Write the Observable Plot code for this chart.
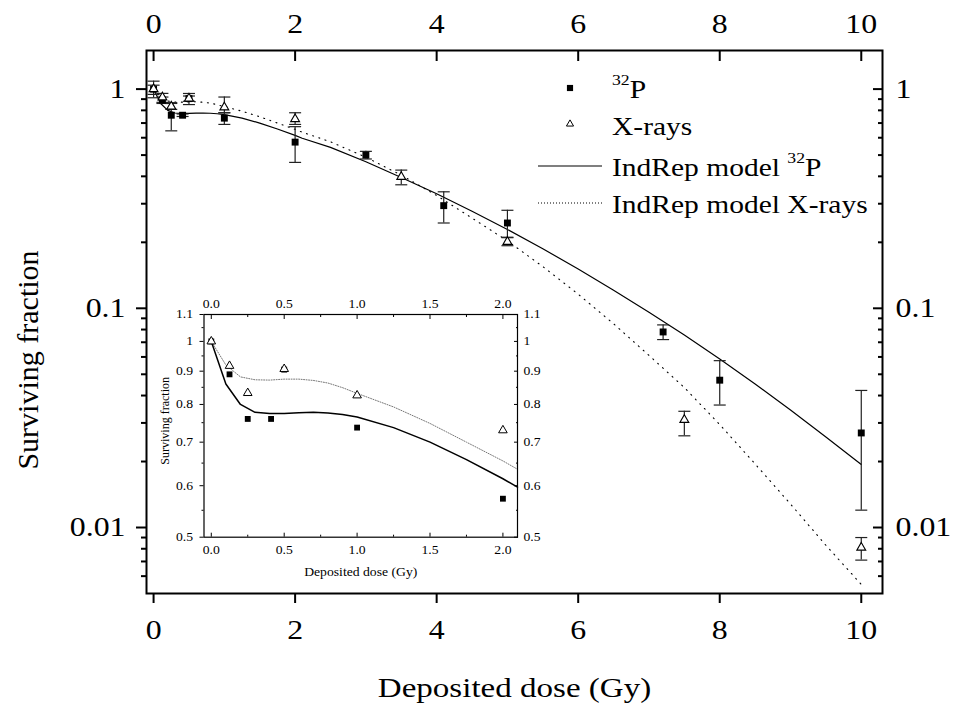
<!DOCTYPE html>
<html>
<head>
<meta charset="utf-8">
<script src="https://cdn.jsdelivr.net/npm/d3@7"></script>
<script src="https://cdn.jsdelivr.net/npm/@observablehq/plot@0.6"></script>
<style>
  html, body { margin: 0; padding: 0; background: #fff; }
  svg { display: block; }
</style>
</head>
<body>
<div id="chart"></div>
<script>
// ---------- data ----------
// 32P measurements
const p32Dose = [0, 0.125, 0.25, 0.41, 0.5, 1.0, 2.0, 3.0, 4.1, 5.0, 7.2, 8.0, 10.0];
const p32Sf   = [1.0, 0.89, 0.76, 0.76, 0.905, 0.737, 0.573, 0.50, 0.294, 0.245, 0.078, 0.047, 0.027];
const p32Lo   = [0.946, 0.86, 0.645, 0.75, 0.88, 0.69, 0.463, 0.48, 0.245, 0.21, 0.072, 0.0362, 0.012];
const p32Hi   = [1.042, 0.92, 0.86, 0.77, 0.93, 0.78, 0.674, 0.52, 0.34, 0.28, 0.084, 0.0577, 0.0422];
// X-ray measurements
const xrDose = [0, 0.125, 0.25, 0.5, 1.0, 2.0, 3.5, 5.0, 7.5, 10.0];
const xrSf   = [1.0, 0.917, 0.833, 0.907, 0.826, 0.73, 0.398, 0.201, 0.031, 0.0081];
const xrLo   = [0.913, 0.87, 0.808, 0.85, 0.78, 0.69, 0.366, 0.193, 0.0262, 0.0071];
const xrHi   = [1.087, 0.956, 0.867, 0.955, 0.92, 0.78, 0.427, 0.211, 0.0339, 0.009];
// IndRep model curves
const modelDose = [0, 0.1, 0.2, 0.3, 0.4, 0.5, 0.6, 0.7, 0.8, 0.9, 1.0, 1.25, 1.5, 1.75, 2.0, 2.1,
                   2.5, 3.0, 3.5, 4.0, 4.5, 5.0, 5.5, 6.0, 6.5, 7.0, 7.5, 8.0, 8.5, 9.0, 9.5, 10.0];
const p32Model = [1.0, 0.86, 0.80, 0.778, 0.775, 0.775, 0.777, 0.778, 0.776, 0.772, 0.765, 0.737, 0.70, 0.658, 0.615, 0.597,
                  0.542, 0.466, 0.395, 0.333, 0.277, 0.229, 0.187, 0.151, 0.121, 0.096, 0.0755, 0.0587, 0.0452, 0.0344, 0.0259, 0.0194];
const xrModel  = [1.0, 0.92, 0.882, 0.873, 0.872, 0.875, 0.875, 0.871, 0.863, 0.849, 0.832, 0.793, 0.748, 0.70, 0.655, 0.636,
                  0.575, 0.489, 0.405, 0.327, 0.258, 0.203, 0.155, 0.116, 0.085, 0.061, 0.0435, 0.0295, 0.0195, 0.0128, 0.0083, 0.0055];
// ticks
const xTicks = [0, 2, 4, 6, 8, 10];
const yMajor = [0.01, 0.1, 1];
const yMinor = [0.006, 0.007, 0.008, 0.009, 0.02, 0.03, 0.04, 0.05, 0.06, 0.07, 0.08, 0.09,
                0.2, 0.3, 0.4, 0.5, 0.6, 0.7, 0.8, 0.9];
const insetXMajor = [0, 0.5, 1.0, 1.5, 2.0];
const insetXMinor = [0.25, 0.75, 1.25, 1.75];
const insetYMajor = [0.5, 0.6, 0.7, 0.8, 0.9, 1.0, 1.1];
const insetYMinor = [0.55, 0.65, 0.75, 0.85, 0.95, 1.05];
// texts
const xTitle = "Deposited dose (Gy)";
const yTitle = "Surviving fraction";

// ---------- tables ----------
const p32 = p32Dose.map((d, i) => ({dose: d, sf: p32Sf[i], lo: p32Lo[i], hi: p32Hi[i]}));
const xr  = xrDose.map((d, i) => ({dose: d, sf: xrSf[i], lo: xrLo[i], hi: xrHi[i]}));
const model = modelDose.map((d, i) => ({dose: d, p32: p32Model[i], xr: xrModel[i]}));

const FONT = "'Liberation Serif', 'Times New Roman', serif";
const capSymbol = {draw(ctx) { ctx.moveTo(-6, 0); ctx.lineTo(6, 0); }};

// ---------- main chart ----------
const main = Plot.plot({
  width: 959, height: 710,
  marginLeft: 146, marginRight: 77, marginTop: 50, marginBottom: 117,
  style: {fontFamily: FONT, fontSize: "27px", background: "white", color: "black"},
  x: {domain: [-0.1, 10.3]},
  y: {type: "log", domain: [0.005, 1.5]},
  marks: [
    // axes: ticks
    Plot.axisX({anchor: "bottom", ticks: xTicks, tickSize: 10, strokeWidth: 2, fill: "none", label: null}),
    Plot.axisX({anchor: "top", ticks: xTicks, tickSize: 10, dy: 10, strokeWidth: 2, fill: "none", label: null}),
    Plot.axisY({anchor: "left", ticks: yMajor, tickSize: 10, strokeWidth: 2, fill: "none", label: null}),
    Plot.axisY({anchor: "left", ticks: yMinor, tickSize: 5, strokeWidth: 2, fill: "none", label: null}),
    Plot.axisY({anchor: "right", ticks: yMajor, tickSize: 10, dx: -10, strokeWidth: 2, fill: "none", label: null}),
    Plot.axisY({anchor: "right", ticks: yMinor, tickSize: 5, dx: -5, strokeWidth: 2, fill: "none", label: null}),
    // axes: labels
    Plot.axisX({anchor: "bottom", ticks: xTicks, tickSize: 0, tickPadding: 26, label: null, fontSize: 27}),
    Plot.axisX({anchor: "top", ticks: xTicks, tickSize: 0, tickPadding: 18, label: null, fontSize: 27}),
    Plot.axisY({anchor: "left", ticks: yMajor, tickSize: 0, tickPadding: 21, label: null, fontSize: 27, tickFormat: d => String(d)}),
    Plot.axisY({anchor: "right", ticks: yMajor, tickSize: 0, tickPadding: 13, label: null, fontSize: 27, tickFormat: d => String(d)}),
    // titles
    Plot.text([xTitle], {text: d => d, frameAnchor: "bottom", dy: 103, fontSize: 28, textAnchor: "middle"}),
    Plot.text([yTitle], {text: d => d, frameAnchor: "left", rotate: -90, dx: -118, dy: 38, fontSize: 30, textAnchor: "middle"}),
    // model curves
    Plot.line(model, {x: "dose", y: "xr", stroke: "black", strokeWidth: 1.1, strokeDasharray: "1,5.5"}),
    Plot.line(model, {x: "dose", y: "p32", stroke: "black", strokeWidth: 1.2}),
    // error bars
    Plot.ruleX(p32, {x: "dose", y1: "lo", y2: "hi", stroke: "#222", strokeWidth: 1.2}),
    Plot.dot(p32, {x: "dose", y: "lo", symbol: capSymbol, stroke: "#222", strokeWidth: 1.2, fill: "none"}),
    Plot.dot(p32, {x: "dose", y: "hi", symbol: capSymbol, stroke: "#222", strokeWidth: 1.2, fill: "none"}),
    Plot.ruleX(xr, {x: "dose", y1: "lo", y2: "hi", stroke: "#222", strokeWidth: 1.2}),
    Plot.dot(xr, {x: "dose", y: "lo", symbol: capSymbol, stroke: "#222", strokeWidth: 1.2, fill: "none"}),
    Plot.dot(xr, {x: "dose", y: "hi", symbol: capSymbol, stroke: "#222", strokeWidth: 1.2, fill: "none"}),
    // points
    Plot.dot(p32, {x: "dose", y: "sf", symbol: "square", r: 3.9, fill: "black", stroke: "none"}),
    Plot.dot(xr, {x: "dose", y: "sf", symbol: "triangle", r: 3.3, fill: "white", stroke: "black", strokeWidth: 1.1}),
    Plot.frame({stroke: "black", strokeWidth: 2})
  ]
});

// ---------- inset ----------
const insetP32 = p32.filter(d => d.dose <= 2.1);
const insetXr = xr.filter(d => d.dose <= 2.1);
const insetModel = model.filter(d => d.dose <= 2.1);
const f1 = d3.format(".1f");
const fy = d => (d === 1 ? "1" : String(d));
const inset = Plot.plot({
  width: 400, height: 300,
  marginLeft: 48.5, marginRight: 38, marginTop: 29, marginBottom: 48.3,
  style: {fontFamily: FONT, fontSize: "12px", background: "white", color: "black", overflow: "visible"},
  x: {domain: [-0.05, 2.1]},
  y: {type: "log", domain: [0.5, 1.1]},
  marks: [
    Plot.axisY({anchor: "left", ticks: insetYMajor, tickSize: 4, fill: "none", label: null}),
    Plot.axisY({anchor: "left", ticks: insetYMinor, tickSize: 2, fill: "none", label: null}),
    Plot.axisY({anchor: "right", ticks: insetYMajor, tickSize: 4, dx: -4, fill: "none", label: null}),
    Plot.axisY({anchor: "right", ticks: insetYMinor, tickSize: 2, dx: -2, fill: "none", label: null}),
    Plot.axisX({anchor: "bottom", ticks: insetXMajor, tickSize: 4, dy: -4, fill: "none", label: null}),
    Plot.axisX({anchor: "bottom", ticks: insetXMinor, tickSize: 2, dy: -2, fill: "none", label: null}),
    Plot.axisX({anchor: "top", ticks: insetXMajor, tickSize: 4, dy: 4, fill: "none", label: null}),
    Plot.axisX({anchor: "top", ticks: insetXMinor, tickSize: 2, dy: 2, fill: "none", label: null}),
    Plot.axisY({anchor: "left", ticks: insetYMajor, tickSize: 0, tickPadding: 11, label: null, tickFormat: fy}),
    Plot.axisY({anchor: "right", ticks: insetYMajor, tickSize: 0, tickPadding: 6, label: null, tickFormat: fy}),
    Plot.axisX({anchor: "bottom", ticks: insetXMajor, tickSize: 0, tickPadding: 8, label: null, tickFormat: f1}),
    Plot.axisX({anchor: "top", ticks: insetXMajor, tickSize: 0, tickPadding: 7, label: null, tickFormat: f1}),
    Plot.text([xTitle], {text: d => d, frameAnchor: "bottom", dy: 39, fontSize: 12, textAnchor: "middle"}),
    Plot.text([yTitle], {text: d => d, frameAnchor: "left", rotate: -90, dx: -38.5, dy: -5, fontSize: 12, textAnchor: "middle"}),
    Plot.line(insetModel, {x: "dose", y: "xr", stroke: "#777", strokeWidth: 1, strokeDasharray: "1,1.5"}),
    Plot.line(insetModel, {x: "dose", y: "p32", stroke: "black", strokeWidth: 1.5}),
    Plot.dot(insetP32, {x: "dose", y: "sf", symbol: "square", r: 3.3, fill: "black", stroke: "none"}),
    Plot.dot(insetXr, {x: "dose", y: "sf", symbol: "triangle", r: 3.2, fill: "white", stroke: "black", strokeWidth: 1}),
    Plot.frame({stroke: "black", strokeWidth: 1.2})
  ]
});
inset.setAttribute("x", 155);
inset.setAttribute("y", 285);
inset.style.height = "300px";
inset.style.width = "400px";
inset.style.maxWidth = "none";
main.appendChild(inset);

// ---------- legend ----------
const lg = d3.select(main).append("g")
  .attr("font-family", FONT).attr("font-size", 25).attr("fill", "black")
  .attr("text-anchor", "start");
lg.append("path")
  .attr("transform", "translate(570,88)")
  .attr("d", d3.symbol(d3.symbolSquare, 38)());
lg.append("path")
  .attr("transform", "translate(570,124)")
  .attr("d", d3.symbol(d3.symbolTriangle, 22)())
  .attr("fill", "white").attr("stroke", "black").attr("stroke-width", 1);
lg.append("line").attr("x1", 538).attr("x2", 602).attr("y1", 166).attr("y2", 166)
  .attr("stroke", "black").attr("stroke-width", 1.2);
lg.append("line").attr("x1", 538).attr("x2", 602).attr("y1", 203).attr("y2", 203)
  .attr("stroke", "black").attr("stroke-width", 1.1).attr("stroke-dasharray", "1,2");

function supLabel(y, before, sup, after) {
  const t = lg.append("text").attr("x", 612).attr("y", y);
  if (before) t.append("tspan").text(before);
  t.append("tspan").attr("font-size", 15).attr("dy", -13).text(sup);
  t.append("tspan").attr("dy", 13).text(after);
}
supLabel(98, "", "32", "P");
lg.append("text").attr("x", 612).attr("y", 135).text("X-rays");
supLabel(176, "IndRep model ", "32", "P");
lg.append("text").attr("x", 612).attr("y", 213).text("IndRep model X-rays");

document.getElementById("chart").appendChild(main);

// widen glyphs horizontally to mimic the reference's stretched typesetting
function widen(texts, factor) {
  texts.forEach(t => {
    const tr = t.getAttribute("transform") || "";
    if (tr.includes("rotate")) return;
    const len = t.getComputedTextLength();
    if (len > 0) {
      t.setAttribute("textLength", (len * factor).toFixed(2));
      t.setAttribute("lengthAdjust", "spacingAndGlyphs");
    }
  });
}
widen(Array.from(inset.querySelectorAll("text")), 1.14);
widen(Array.from(main.querySelectorAll("text")).filter(t => t.ownerSVGElement === main), 1.18);
</script>
</body>
</html>
